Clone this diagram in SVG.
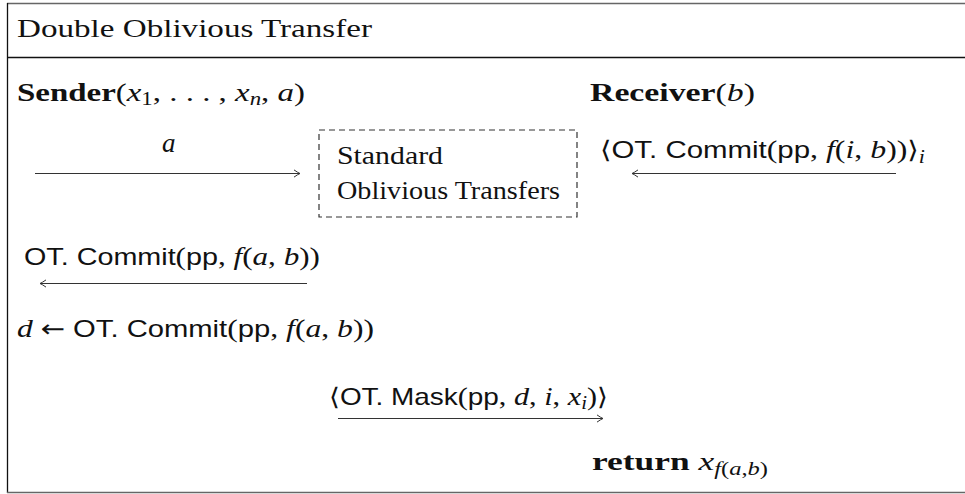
<svg xmlns="http://www.w3.org/2000/svg" width="965" height="494" viewBox="0 0 965 494">
<style>
.rm{font-family:"Liberation Serif","DejaVu Serif",serif;font-size:26px;fill:#111}
.bf{font-weight:bold}
.it{font-style:italic}
.sf{font-family:"Liberation Sans","DejaVu Sans",sans-serif;font-size:24px}
.sub{font-size:18px}
.ang{font-family:"DejaVu Sans",sans-serif;font-weight:normal;font-size:24px}
.arr{stroke:#333;stroke-width:1.2;fill:none}
.frame{stroke:#111;stroke-width:1.3;fill:none}
</style>
<defs>
<marker id="ah" viewBox="-8 -5 10 10" markerWidth="10" markerHeight="10" refX="0" refY="0" orient="auto" markerUnits="userSpaceOnUse">
<path d="M-6,-3.6 Q-2,-0.8 0,0 Q-2,0.8 -6,3.6" fill="none" stroke="#333" stroke-width="1"/>
</marker>
</defs>
<rect width="965" height="494" fill="#fff"/>
<g id="frame">
<line x1="7" y1="3.5" x2="965" y2="3.5" stroke="#666" stroke-width="1.5"/>
<line x1="7.5" y1="3" x2="7.5" y2="493" class="frame"/>
<line x1="7" y1="57.5" x2="965" y2="57.5" class="frame"/>
<line x1="7" y1="492.5" x2="965" y2="492.5" stroke="#666" stroke-width="1.5"/>
<text class="rm" x="17" y="37" textLength="355" lengthAdjust="spacingAndGlyphs">Double Oblivious Transfer</text>
</g>
<g id="sender">
<text class="rm" x="17" y="101" textLength="288" lengthAdjust="spacingAndGlyphs"><tspan class="bf">Sender</tspan>(<tspan class="it">x</tspan><tspan class="sub" dy="4">1</tspan><tspan dy="-4">, . . . , </tspan><tspan class="it">x</tspan><tspan class="sub it" dy="4">n</tspan><tspan dy="-4">, </tspan><tspan class="it">a</tspan>)</text>
</g>
<g id="receiver">
<text class="rm" x="590" y="101" textLength="165" lengthAdjust="spacingAndGlyphs"><tspan class="bf">Receiver</tspan>(<tspan class="it">b</tspan>)</text>
</g>
<g id="ot-box">
<rect x="319" y="130" width="258" height="87" fill="none" stroke="#333" stroke-width="1.2" stroke-dasharray="6,4"/>
<text class="rm" x="337" y="164" textLength="106" lengthAdjust="spacingAndGlyphs">Standard</text>
<text class="rm" x="337" y="199" textLength="223" lengthAdjust="spacingAndGlyphs">Oblivious Transfers</text>
</g>
<g id="connectors">
<line class="arr" x1="35" y1="173.5" x2="300" y2="173.5" marker-end="url(#ah)"/>
<line class="arr" x1="896" y1="173.5" x2="632" y2="173.5" marker-end="url(#ah)"/>
<line class="arr" x1="307" y1="283.5" x2="40" y2="283.5" marker-end="url(#ah)"/>
<line class="arr" x1="338" y1="418.5" x2="603" y2="418.5" marker-end="url(#ah)"/>
</g>
<g id="labels">
<text class="rm it" x="162" y="152" style="font-size:27px">a</text>
<text class="rm" x="600" y="158" textLength="325" lengthAdjust="spacingAndGlyphs"><tspan class="ang">⟨</tspan><tspan class="sf">OT. Commit</tspan>(<tspan class="sf">pp</tspan>, <tspan class="it">f</tspan>(<tspan class="it">i</tspan>, <tspan class="it">b</tspan>))<tspan class="ang">⟩</tspan><tspan class="sub it" dy="5">i</tspan></text>
<text class="rm" x="24" y="265" textLength="296" lengthAdjust="spacingAndGlyphs"><tspan class="sf">OT. Commit</tspan>(<tspan class="sf">pp</tspan>, <tspan class="it">f</tspan>(<tspan class="it">a</tspan>, <tspan class="it">b</tspan>))</text>
<text class="rm" x="17" y="337" textLength="357" lengthAdjust="spacingAndGlyphs"><tspan class="it">d</tspan> <tspan class="ang">←</tspan> <tspan class="sf">OT. Commit</tspan>(<tspan class="sf">pp</tspan>, <tspan class="it">f</tspan>(<tspan class="it">a</tspan>, <tspan class="it">b</tspan>))</text>
<text class="rm" x="329" y="405" textLength="279" lengthAdjust="spacingAndGlyphs"><tspan class="ang">⟨</tspan><tspan class="sf">OT. Mask</tspan>(<tspan class="sf">pp</tspan>, <tspan class="it">d</tspan>, <tspan class="it">i</tspan>, <tspan class="it">x</tspan><tspan class="sub it" dy="4">i</tspan><tspan dy="-4">)</tspan><tspan class="ang">⟩</tspan></text>
<text class="rm" x="592" y="470" textLength="176" lengthAdjust="spacingAndGlyphs"><tspan class="bf">return</tspan> <tspan class="it">x</tspan><tspan class="sub it" dy="5">f</tspan><tspan class="sub">(</tspan><tspan class="sub it">a</tspan><tspan class="sub">,</tspan><tspan class="sub it">b</tspan><tspan class="sub">)</tspan></text>
</g>
</svg>
